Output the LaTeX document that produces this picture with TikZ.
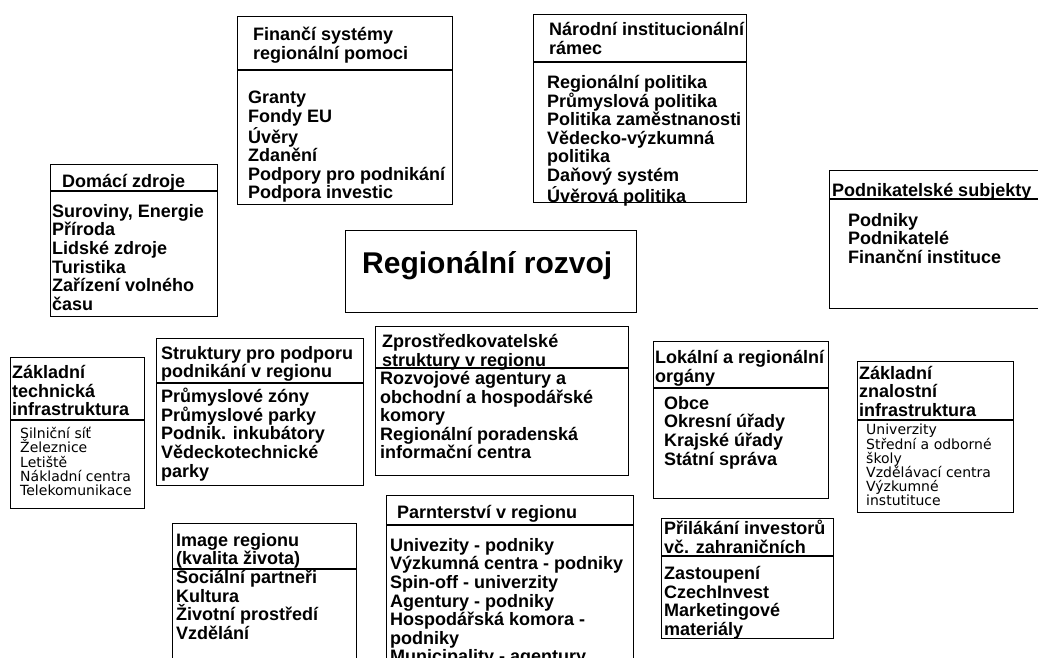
\documentclass[tikz,border=0pt]{standalone}
\usepackage{fontspec}
\setmainfont{Liberation Sans}
\newfontfamily\thinfont{DejaVu Sans}
\usepackage{tikz}

\begin{document}
\begin{tikzpicture}[x=1pt,y=-1pt,
  frame/.style={draw,line width=1.1pt,anchor=north west,inner sep=0pt},
  head/.style={font=\bfseries\fontsize{18}{18.6}\selectfont,align=left,inner sep=0pt,anchor=north west},
  thin/.style={font=\thinfont\fontsize{14}{14.2}\selectfont,align=left,inner sep=0pt,anchor=north west}]

\useasboundingbox (0,0) rectangle (1038,657);
\clip (0,0) rectangle (1038,657);

\node[frame,minimum width=215,minimum height=188] (fin) at (237,16) {};
\node[frame,minimum width=213,minimum height=188] (nar) at (533,14) {};
\node[frame,minimum width=167,minimum height=152] (dom) at (50,164) {};
\node[frame,minimum width=216,minimum height=138] (pod) at (829,170) {};
\node[frame,minimum width=291,minimum height=82] (reg) at (345,230) {};
\node[frame,minimum width=134,minimum height=151] (tech) at (10,357) {};
\node[frame,minimum width=207,minimum height=147] (str) at (156,338) {};
\node[frame,minimum width=253,minimum height=149] (zpr) at (375,326) {};
\node[frame,minimum width=175,minimum height=157] (lok) at (653,341) {};
\node[frame,minimum width=156,minimum height=151] (zna) at (857,361) {};
\node[frame,minimum width=184,minimum height=150] (img) at (172,523) {};
\node[frame,minimum width=247,minimum height=175] (par) at (386,495) {};
\node[frame,minimum width=172,minimum height=120] (pri) at (661,518) {};

\draw[line width=1.1pt] (fin.west |- 0,70) -- (fin.east |- 0,70);
\draw[line width=1.1pt] (nar.west |- 0,62) -- (nar.east |- 0,62);
\draw[line width=1.1pt] (dom.west |- 0,191) -- (dom.east |- 0,191);
\draw[line width=1.1pt] (pod.west |- 0,199) -- (pod.east |- 0,199);
\draw[line width=1.1pt] (tech.west |- 0,420) -- (tech.east |- 0,420);
\draw[line width=1.1pt] (str.west |- 0,383) -- (str.east |- 0,383);
\draw[line width=1.1pt] (zpr.west |- 0,368) -- (zpr.east |- 0,368);
\draw[line width=1.1pt] (lok.west |- 0,388) -- (lok.east |- 0,388);
\draw[line width=1.1pt] (zna.west |- 0,420) -- (zna.east |- 0,420);
\draw[line width=1.1pt] (img.west |- 0,569) -- (img.east |- 0,569);
\draw[line width=1.1pt] (par.west |- 0,525) -- (par.east |- 0,525);
\draw[line width=1.1pt] (pri.west |- 0,556) -- (pri.east |- 0,556);

\node[head] (fin-h) at (253,27) {Finančí systémy\\regionální pomoci};
\node[head] (fin-b) at (248,91) {Granty\\Fondy EU\\Úvěry\\Zdanění\\Podpory pro podnikání\\Podpora investic};
\node[head] (nar-h) at (549,22) {Národní institucionální\\rámec};
\node[head] (nar-b) at (547,75) {Regionální politika\\Průmyslová politika\\Politika zaměstnanosti\\Vědecko-výzkumná\\politika\\Daňový systém\\Úvěrová politika};
\node[head] (dom-h) at (62,174) {Domácí zdroje};
\node[head] (dom-b) at (52,204) {Suroviny, Energie\\Příroda\\Lidské zdroje\\Turistika\\Zařízení volného\\času};
\node[head] (pod-h) at (832,183) {Podnikatelské subjekty};
\node[head] (pod-b) at (848,213) {Podniky\\Podnikatelé\\Finanční instituce};
\node[head,font=\bfseries\fontsize{30}{33}\selectfont] (reg-t) at (362,251) {Regionální rozvoj};
\node[head] (tech-h) at (12,365) {Základní\\technická\\infrastruktura};
\node[thin] (tech-b) at (20,427) {Silniční síť\\Železnice\\Letiště\\Nákladní centra\\Telekomunikace};
\node[head] (str-h) at (161,346) {Struktury pro podporu\\podnikání v regionu};
\node[head] (str-b) at (161,388) {Průmyslové zóny\\Průmyslové parky\\Podnik. inkubátory\\Vědeckotechnické\\parky};
\node[head] (zpr-h) at (382,334) {Zprostředkovatelské\\struktury v regionu};
\node[head] (zpr-b) at (380,371) {Rozvojové agentury a\\obchodní a hospodářské\\komory\\Regionální poradenská\\informační centra};
\node[head] (lok-h) at (655,350) {Lokální a regionální\\orgány};
\node[head] (lok-b) at (664,396) {Obce\\Okresní úřady\\Krajské úřady\\Státní správa};
\node[head,font=\bfseries\fontsize{18}{18.5}\selectfont] (zna-h) at (859,366) {Základní\\znalostní\\infrastruktura};
\node[thin] (zna-b) at (866,424) {Univerzity\\Střední a odborné\\školy\\Vzdělávací centra\\Výzkumné\\instutituce};
\node[head] (img-h) at (176,533) {Image regionu\\(kvalita života)};
\node[head] (img-b) at (176,570) {Sociální partneři\\Kultura\\Životní prostředí\\Vzdělání};
\node[head] (par-h) at (397,505) {Parnterství v regionu};
\node[head] (par-b) at (390,538) {Univezity - podniky\\Výzkumná centra - podniky\\Spin-off - univerzity\\Agentury - podniky\\Hospodářská komora -\\podniky\\Municipality - agentury};
\node[head] (pri-h) at (664,520) {Přilákání investorů\\vč. zahraničních};
\node[head] (pri-b) at (664,566) {Zastoupení\\CzechInvest\\Marketingové\\materiály};

\end{tikzpicture}
\end{document}
